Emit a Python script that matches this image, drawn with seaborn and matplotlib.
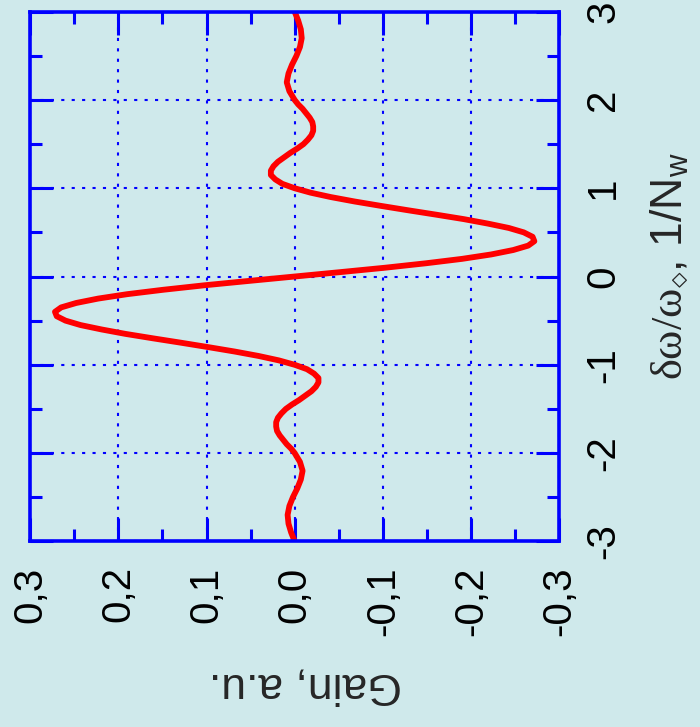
import numpy as np
import pandas as pd
import matplotlib
matplotlib.use("Agg")
import matplotlib.pyplot as plt
import seaborn as sns
from matplotlib.ticker import MultipleLocator, FixedLocator

# ---- data ----
detuning = [-3.0, -2.9, -2.8, -2.7, -2.6, -2.5, -2.4, -2.3, -2.2, -2.1,
            -2.0, -1.95, -1.9, -1.85, -1.8, -1.75, -1.7, -1.65, -1.6, -1.55,
            -1.5, -1.45, -1.4, -1.35, -1.3, -1.25, -1.2, -1.15, -1.1, -1.05,
            -1.0, -0.95, -0.9, -0.85, -0.8, -0.75, -0.7, -0.65, -0.6, -0.55,
            -0.5, -0.45, -0.4, -0.35, -0.3, -0.25, -0.2, -0.15, -0.1, -0.05,
            0.0, 0.05, 0.1, 0.15, 0.2, 0.25, 0.3, 0.35, 0.4, 0.45,
            0.5, 0.55, 0.6, 0.65, 0.7, 0.75, 0.8, 0.85, 0.9, 0.95,
            1.0, 1.05, 1.1, 1.15, 1.2, 1.25, 1.3, 1.35, 1.4, 1.45,
            1.5, 1.55, 1.6, 1.65, 1.7, 1.75, 1.8, 1.85, 1.9, 1.95,
            2.0, 2.1, 2.2, 2.3, 2.4, 2.5, 2.6, 2.7, 2.8, 2.9, 3.0]
gain = [0.000, 0.004, 0.007, 0.008, 0.006, 0.002, -0.003, -0.007, -0.009, -0.006,
        0.000, 0.004, 0.009, 0.013, 0.017, 0.020, 0.021, 0.021, 0.019, 0.015,
        0.010, 0.003, -0.005, -0.012, -0.019, -0.024, -0.027, -0.027, -0.022, -0.014,
        0.000, 0.018, 0.041, 0.068, 0.098, 0.129, 0.161, 0.192, 0.219, 0.243,
        0.260, 0.270, 0.272, 0.265, 0.248, 0.223, 0.190, 0.149, 0.103, 0.052,
        0.000, -0.052, -0.103, -0.149, -0.190, -0.223, -0.248, -0.265, -0.272, -0.270,
        -0.260, -0.243, -0.219, -0.192, -0.161, -0.129, -0.098, -0.068, -0.041, -0.018,
        0.000, 0.014, 0.022, 0.027, 0.027, 0.024, 0.019, 0.012, 0.005, -0.003,
        -0.010, -0.015, -0.019, -0.021, -0.021, -0.020, -0.017, -0.013, -0.009, -0.004,
        0.000, 0.006, 0.009, 0.007, 0.003, -0.002, -0.006, -0.008, -0.007, -0.004, 0.000]

gain_ticks = [0.3, 0.2, 0.1, 0.0, -0.1, -0.2, -0.3]
gain_tick_labels = ["0,3", "0,2", "0,1", "0,0", "-0,1", "-0,2", "-0,3"]
det_ticks = [-3, -2, -1, 0, 1, 2, 3]
det_tick_labels = ["-3", "-2", "-1", "0", "1", "2", "3"]

det_label = r"$\mathrm{\delta\omega/\omega}_{\diamond}$, 1/N$_{\mathregular{w}}$"
gain_label = "Gain, a.u."

# ---- style ----
BG = "#CFE9EB"
sns.set_style("ticks")
plt.rcParams["font.family"] = ["Liberation Sans", "DejaVu Sans"]
plt.rcParams["mathtext.fontset"] = "custom"
plt.rcParams["mathtext.rm"] = "Liberation Serif"
plt.rcParams["mathtext.it"] = "Liberation Serif:italic"
plt.rcParams["mathtext.sf"] = "Liberation Sans"

fig = plt.figure(figsize=(7.0, 7.27), dpi=100, facecolor=BG)
ax = fig.add_axes([0.0433, 0.2554, 0.7553, 0.7285])
ax.set_facecolor(BG)

df = pd.DataFrame({"gain": gain, "detuning": detuning})
sns.lineplot(data=df, x="gain", y="detuning", sort=False, estimator=None,
             color="#FF0000", linewidth=4.2, ax=ax, zorder=3)

ax.set_xlim(0.3, -0.3)
ax.set_ylim(-3, 3)
ax.xaxis.set_major_locator(FixedLocator(gain_ticks))
ax.set_xticklabels(gain_tick_labels)
ax.xaxis.set_minor_locator(MultipleLocator(0.05))
ax.yaxis.set_major_locator(FixedLocator(det_ticks))
ax.set_yticklabels(det_tick_labels)
ax.yaxis.set_minor_locator(MultipleLocator(0.5))
ax.set_xlabel("")
ax.set_ylabel("")

ax.grid(True, which="major", color="blue", linewidth=1.5, linestyle=(0, (1.5, 3.5)))
for s in ax.spines.values():
    s.set_color("blue")
    s.set_linewidth(2.6)
    s.set_zorder(4)

ax.tick_params(axis="both", which="both", direction="in", top=True, bottom=True,
               left=True, right=True, color="blue", width=2.2)
ax.tick_params(which="major", length=16.5)
ax.tick_params(which="minor", length=8.5)
ax.tick_params(axis="x", labelbottom=True, labeltop=False, labelrotation=90,
               pad=18, labelsize=29, labelcolor="black")
ax.tick_params(axis="y", labelleft=False, labelright=True, labelrotation=90,
               pad=18, labelsize=29, labelcolor="black")
for lbl in ax.get_yticklabels():
    lbl.set_va("center")

fig.text(682 / 700, 1 - 266 / 727, det_label, rotation=90, rotation_mode="anchor",
         ha="center", va="baseline", fontsize=32)
fig.text(305 / 700, 1 - 673 / 727, gain_label, rotation=180, rotation_mode="anchor",
         ha="center", va="baseline", fontsize=32)

fig.savefig("out.png", dpi=100, facecolor=BG)
